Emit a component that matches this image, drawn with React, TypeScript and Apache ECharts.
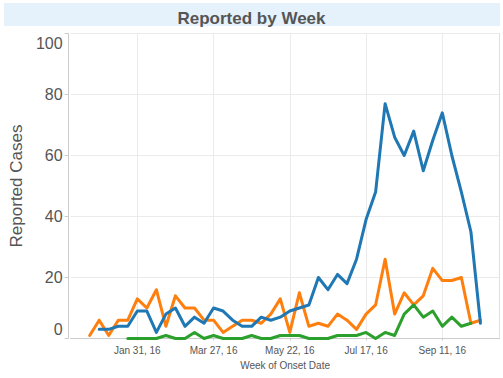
import React, { useEffect, useRef } from "react";
import * as echarts from "echarts";

const weeks = [
  "Dec 13, 15", "Dec 20, 15", "Dec 27, 15", "Jan 3, 16", "Jan 10, 16", "Jan 17, 16", "Jan 24, 16",
  "Jan 31, 16", "Feb 7, 16", "Feb 14, 16", "Feb 21, 16", "Feb 28, 16", "Mar 6, 16", "Mar 13, 16",
  "Mar 20, 16", "Mar 27, 16", "Apr 3, 16", "Apr 10, 16", "Apr 17, 16", "Apr 24, 16", "May 1, 16",
  "May 8, 16", "May 15, 16", "May 22, 16", "May 29, 16", "Jun 5, 16", "Jun 12, 16", "Jun 19, 16",
  "Jun 26, 16", "Jul 3, 16", "Jul 10, 16", "Jul 17, 16", "Jul 24, 16", "Jul 31, 16", "Aug 7, 16",
  "Aug 14, 16", "Aug 21, 16", "Aug 28, 16", "Sep 4, 16", "Sep 11, 16", "Sep 18, 16", "Sep 25, 16",
  "Oct 2, 16", "Oct 9, 16", "Oct 16, 16", "Oct 23, 16",
];

const tickLabels = ["Jan 31, 16", "Mar 27, 16", "May 22, 16", "Jul 17, 16", "Sep 11, 16"];

const yMin = 0;
const yMax = 100;
const yStep = 20;

const blueCases = [
  null, null, null,
  3, 3, 4, 4, 9, 9, 2, 8, 10, 4,
  7, 5, 10, 9, 6, 4, 4, 7, 6, 7,
  9, 10, 11, 20, 16, 21, 18, 26, 39, 48,
  77, 66, 60, 68, 55, 65, 74, 60, 48, 35,
  5,
  null, null,
];

const orangeCases = [
  null, null,
  1, 6, 1, 6, 6, 13, 10, 16, 4, 14,
  10, 10, 6, 6, 2, 4, 6, 6, 5, 8,
  13, 2, 15, 4, 5, 4, 8, 6, 3, 8,
  11, 26, 8, 15, 11, 14, 23, 19, 19, 20,
  5, 6,
  null, null,
];

const greenCases = [
  null, null, null, null, null, null,
  0, 0, 0, 0, 1, 0, 0, 2, 0, 1,
  0, 0, 0, 1, 0, 0, 1, 1, 1, 0,
  0, 0, 1, 1, 1, 2, 0, 2, 1, 8,
  11, 7, 9, 4, 7, 4, 5,
  null, null, null,
];

const FONT = 'Arial, "Liberation Sans", sans-serif';
const TEXT = "#555555";
const GRID = "#ebebeb";
const AXIS = "#cccccc";

export default function App() {
  const ref = useRef<HTMLDivElement>(null);

  useEffect(() => {
    if (!ref.current) return;
    const chart = echarts.init(ref.current, undefined, { renderer: "svg" });
    const isTick = (_i: number, v: string) => tickLabels.includes(v);
    const lineSeries = (name: string, data: (number | null)[], color: string) => ({
      name,
      type: "line",
      data,
      symbol: "none",
      connectNulls: false,
      lineStyle: { width: 3, color, join: "round", cap: "round" },
      itemStyle: { color },
    });
    chart.setOption({
      animation: false,
      textStyle: { fontFamily: FONT },
      title: {
        text: "Reported by Week",
        left: "center",
        top: 5,
        textStyle: { fontSize: 17, fontWeight: "bold", color: TEXT, fontFamily: FONT },
      },
      graphic: [
        {
          type: "rect",
          shape: { x: 4, y: 3, width: 496, height: 23 },
          style: { fill: "#e6f2fb" },
        },
      ],
      grid: { left: 68, right: 3.5, top: 33.5, bottom: 39.5 },
      xAxis: {
        type: "category",
        data: weeks,
        boundaryGap: false,
        name: "Week of Onset Date",
        nameLocation: "middle",
        nameGap: 22,
        nameTextStyle: { fontSize: 10, color: TEXT, fontFamily: FONT },
        axisLine: { show: true, lineStyle: { color: AXIS } },
        axisTick: { show: true, length: 2, lineStyle: { color: AXIS } },
        axisLabel: { interval: isTick, fontSize: 10, color: TEXT, margin: 7, fontFamily: FONT },
        splitLine: { show: true, interval: isTick, lineStyle: { color: GRID } },
      },
      yAxis: [
        {
          type: "value",
          min: yMin,
          max: yMax,
          interval: yStep,
          offset: 2,
          name: "Reported Cases",
          nameLocation: "middle",
          nameGap: 41,
          nameTextStyle: { fontSize: 17, color: TEXT, fontFamily: FONT },
          axisLine: { show: true, lineStyle: { color: AXIS } },
          axisTick: { show: true, length: 4, lineStyle: { color: AXIS } },
          axisLabel: {
            fontSize: 16,
            color: TEXT,
            margin: 6,
            fontFamily: FONT,
            formatter: (v: number) =>
              v === yMax ? `{top|${v}}` : v === yMin ? `{bot|${v}}` : String(v),
            rich: {
              top: { fontSize: 16, color: TEXT, fontFamily: FONT, padding: [19, 0, 0, 0] },
              bot: { fontSize: 16, color: TEXT, fontFamily: FONT, padding: [0, 0, 18, 0] },
            },
          },
          splitLine: { show: true, lineStyle: { color: GRID } },
        },
        {
          type: "value",
          min: yMin,
          max: yMax,
          position: "right",
          axisLine: { show: true, lineStyle: { color: "#e0e0e0" } },
          axisTick: { show: false },
          axisLabel: { show: false },
          splitLine: { show: false },
        },
      ],
      series: [
        lineSeries("Orange", orangeCases, "#ff7f0e"),
        lineSeries("Green", greenCases, "#2ca02c"),
        lineSeries("Blue", blueCases, "#1f77b4"),
      ],
    });
    return () => chart.dispose();
  }, []);

  return (
    <div
      ref={ref}
      style={{ position: "absolute", left: 0, top: 0, width: 503, height: 378, background: "#fff" }}
    />
  );
}
